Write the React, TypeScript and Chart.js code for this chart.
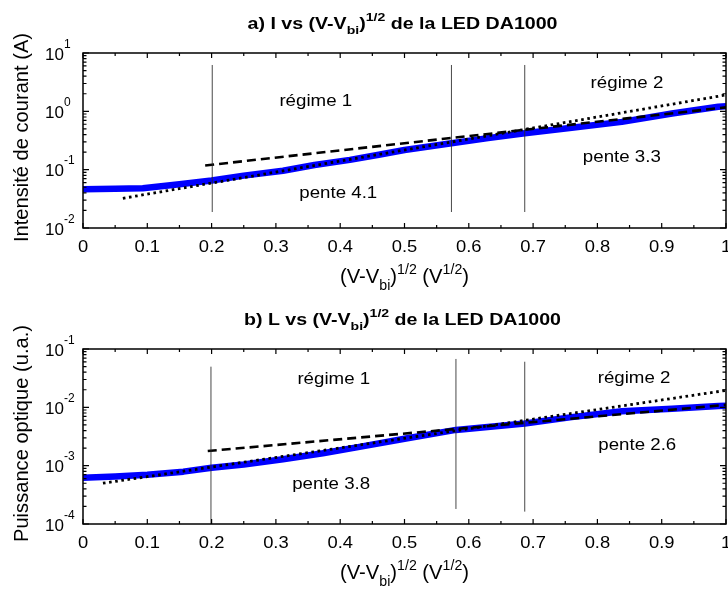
import React, { useEffect, useRef } from "react";
import { Chart, registerables } from "chart.js";

Chart.register(...registerables);

const FONT = '"Liberation Sans", Arial, Helvetica, sans-serif';

// ---------- shared axis data ----------
const xTickValues = [0, 0.1, 0.2, 0.3, 0.4, 0.5, 0.6, 0.7, 0.8, 0.9, 1];
const xTickLabels = ["0", "0.1", "0.2", "0.3", "0.4", "0.5", "0.6", "0.7", "0.8", "0.9", "1"];
const xMinorTicks = [0.05, 0.15, 0.25, 0.35, 0.45, 0.55, 0.65, 0.75, 0.85, 0.95];

// ---------- panel a) current ----------
const iDecades = [1, 0, -1, -2];
const iX = [0, 0.05, 0.093, 0.15, 0.2, 0.25, 0.311, 0.36, 0.415, 0.46, 0.5, 0.573, 0.63, 0.687, 0.76, 0.838, 0.916, 0.988, 1.0];
const iY = [0.046, 0.047, 0.048, 0.056, 0.065, 0.079, 0.096, 0.12, 0.147, 0.18, 0.217, 0.283, 0.347, 0.42, 0.525, 0.66, 0.92, 1.2, 1.22];
const iDashX = [0.19, 1.0];
const iDashY = [0.118, 1.17];
const iDotX = [0.062, 1.0];
const iDotY = [0.0323, 1.91];
const iVLineX = [0.201, 0.573, 0.687];
const iVLineLow = [0.0188, 0.0188, 0.0188];
const iVLineHigh = [6.23, 6.23, 6.23];
const iNoteText = ["régime 1", "régime 2", "pente 4.1", "pente 3.3"];
const iNoteX = [0.362, 0.846, 0.397, 0.838];
const iNoteY = [1.56, 3.18, 0.042, 0.171];

// ---------- panel b) optical power ----------
const lDecades = [-1, -2, -3, -4];
const lX = [0, 0.05, 0.1, 0.156, 0.2, 0.25, 0.311, 0.373, 0.43, 0.5, 0.58, 0.687, 0.76, 0.838, 0.916, 0.988, 1.0];
const lY = [0.00062, 0.00065, 0.0007, 0.00079, 0.00092, 0.00105, 0.00129, 0.00163, 0.0021, 0.0029, 0.0041, 0.0053, 0.0068, 0.0086, 0.0095, 0.0105, 0.0106];
const lDashX = [0.194, 1.0];
const lDashY = [0.00178, 0.011];
const lDotX = [0.031, 1.0];
const lDotY = [0.0005, 0.0195];
const lVLineX = [0.199, 0.58, 0.687];
const lVLineLow = [0.0001, 0.000181, 0.000163];
const lVLineHigh = [0.0498, 0.0675, 0.0605];
const lNoteText = ["régime 1", "régime 2", "pente 3.8", "pente 2.6"];
const lNoteX = [0.39, 0.857, 0.386, 0.862];
const lNoteY = [0.0318, 0.0331, 0.0005, 0.00235];

type Seg = { t: string; s: number; dy?: number };

function drawRich(
  ctx: CanvasRenderingContext2D,
  segs: Seg[],
  x: number,
  y: number,
  o: { bold?: boolean; align?: "left" | "center"; sx?: number; width?: number; rot?: number }
) {
  ctx.save();
  const fontOf = (s: number) => `${o.bold ? "bold " : ""}${s}px ${FONT}`;
  let w = 0;
  for (const sg of segs) {
    ctx.font = fontOf(sg.s);
    w += ctx.measureText(sg.t).width;
  }
  const k = o.width ? o.width / w : o.sx ?? 1;
  ctx.translate(x, y);
  if (o.rot) ctx.rotate(o.rot);
  ctx.scale(k, 1);
  let cx = o.align === "left" ? 0 : -w / 2;
  ctx.fillStyle = "#000";
  ctx.textBaseline = "alphabetic";
  ctx.textAlign = "left";
  for (const sg of segs) {
    ctx.font = fontOf(sg.s);
    ctx.fillText(sg.t, cx, sg.dy ?? 0);
    cx += ctx.measureText(sg.t).width;
  }
  ctx.restore();
}

type Panel = {
  title: Seg[];
  titleWidth: number;
  yLabel: string;
  yLabelLen: number;
  yMin: number;
  yMax: number;
  decades: number[];
  curveX: number[];
  curveY: number[];
  dashX: number[];
  dashY: number[];
  dotX: number[];
  dotY: number[];
  vX: number[];
  vLow: number[];
  vHigh: number[];
  noteText: string[];
  noteX: number[];
  noteY: number[];
  padTop: number;
  padBottom: number;
};

const xLabelSegs: Seg[] = [
  { t: "(V-V", s: 20 },
  { t: "bi", s: 14, dy: 7 },
  { t: ")", s: 20 },
  { t: "1/2", s: 14, dy: -9 },
  { t: " (V", s: 20 },
  { t: "1/2", s: 14, dy: -9 },
  { t: ")", s: 20 },
];

function makeTitle(prefix: string): Seg[] {
  return [
    { t: prefix + " vs (V-V", s: 16 },
    { t: "bi", s: 11.5, dy: 5 },
    { t: ")", s: 16 },
    { t: "1/2", s: 11.5, dy: -8 },
    { t: " de la LED DA1000", s: 16 },
  ];
}

const panelA: Panel = {
  title: makeTitle("a) I"),
  titleWidth: 310,
  yLabel: "Intensité de courant (A)",
  yLabelLen: 209,
  yMin: 0.01,
  yMax: 10,
  decades: iDecades,
  curveX: iX,
  curveY: iY,
  dashX: iDashX,
  dashY: iDashY,
  dotX: iDotX,
  dotY: iDotY,
  vX: iVLineX,
  vLow: iVLineLow,
  vHigh: iVLineHigh,
  noteText: iNoteText,
  noteX: iNoteX,
  noteY: iNoteY,
  padTop: 53,
  padBottom: 66,
};

const panelB: Panel = {
  title: makeTitle("b) L"),
  titleWidth: 317,
  yLabel: "Puissance optique (u.a.)",
  yLabelLen: 217,
  yMin: 0.0001,
  yMax: 0.1,
  decades: lDecades,
  curveX: lX,
  curveY: lY,
  dashX: lDashX,
  dashY: lDashY,
  dotX: lDotX,
  dotY: lDotY,
  vX: lVLineX,
  vLow: lVLineLow,
  vHigh: lVLineHigh,
  noteText: lNoteText,
  noteX: lNoteX,
  noteY: lNoteY,
  padTop: 55,
  padBottom: 65,
};

function pts(xs: number[], ys: number[]) {
  return xs.map((x, i) => ({ x, y: ys[i] }));
}

function makeDecorPlugin(p: Panel) {
  return {
    id: "decor",
    afterDraw(chart: any) {
      const ctx: CanvasRenderingContext2D = chart.ctx;
      const xs = chart.scales.x;
      const ys = chart.scales.y;
      const a = chart.chartArea;
      ctx.save();
      // frame
      ctx.strokeStyle = "#000";
      ctx.lineWidth = 1.5;
      ctx.strokeRect(a.left, a.top, a.right - a.left, a.bottom - a.top);
      // x ticks (inward, top and bottom)
      ctx.lineWidth = 1.2;
      const xt = (v: number, len: number) => {
        const px = xs.getPixelForValue(v);
        ctx.beginPath();
        ctx.moveTo(px, a.bottom);
        ctx.lineTo(px, a.bottom - len);
        ctx.moveTo(px, a.top);
        ctx.lineTo(px, a.top + len);
        ctx.stroke();
      };
      xTickValues.forEach((v) => xt(v, 5));
      xMinorTicks.forEach((v) => xt(v, 3));
      // y log ticks (inward, left and right)
      const yt = (v: number, len: number) => {
        const py = ys.getPixelForValue(v);
        ctx.beginPath();
        ctx.moveTo(a.left, py);
        ctx.lineTo(a.left + len, py);
        ctx.moveTo(a.right, py);
        ctx.lineTo(a.right - len, py);
        ctx.stroke();
      };
      const dmin = Math.min(...p.decades);
      const dmax = Math.max(...p.decades);
      for (let d = dmin; d <= dmax; d++) {
        yt(Math.pow(10, d), 6);
        if (d < dmax) for (let m = 2; m <= 9; m++) yt(m * Math.pow(10, d), 3.5);
      }
      ctx.restore();

      // x tick labels
      xTickValues.forEach((v, i) => {
        drawRich(ctx, [{ t: xTickLabels[i], s: 17 }], xs.getPixelForValue(v), a.bottom + 23.7, { sx: 1.08 });
      });
      // y tick labels
      p.decades.forEach((d) => {
        const py = ys.getPixelForValue(Math.pow(10, d));
        drawRich(
          ctx,
          [
            { t: "10", s: 17 },
            { t: String(d), s: 12, dy: -12 },
          ],
          45,
          py + 6.5,
          { align: "left" }
        );
      });
      const cx = (a.left + a.right) / 2;
      // title
      drawRich(ctx, p.title, cx - 2, a.top - 23.7, { bold: true, width: p.titleWidth });
      // x label
      drawRich(ctx, xLabelSegs, cx, a.bottom + 54.7, { width: 129 });
      // y label
      drawRich(ctx, [{ t: p.yLabel, s: 20 }], 28, (a.top + a.bottom) / 2 - 3, {
        rot: -Math.PI / 2,
        width: p.yLabelLen,
      });
      // annotations
      p.noteText.forEach((t, i) => {
        drawRich(ctx, [{ t, s: 17 }], xs.getPixelForValue(p.noteX[i]), ys.getPixelForValue(p.noteY[i]) + 6, {
          sx: 1.1,
        });
      });
    },
  };
}

function makeConfig(p: Panel): any {
  const vsets = p.vX.map((x, i) => ({
    data: pts([x, x], [p.vLow[i], p.vHigh[i]]),
    borderColor: "rgba(40,40,40,0.85)",
    borderWidth: 1,
    pointRadius: 0,
  }));
  return {
    type: "line",
    data: {
      datasets: [
        ...vsets,
        {
          data: pts(p.dashX, p.dashY),
          borderColor: "#000",
          borderWidth: 2.6,
          borderDash: [9, 5],
          pointRadius: 0,
        },
        {
          data: pts(p.dotX, p.dotY),
          borderColor: "#000",
          borderWidth: 2.8,
          borderDash: [2.6, 3.6],
          pointRadius: 0,
        },
        {
          data: pts(p.curveX, p.curveY),
          borderColor: "#0000ff",
          borderWidth: 6.5,
          pointRadius: 0,
          borderJoinStyle: "round",
        },
      ],
    },
    options: {
      responsive: false,
      animation: false,
      events: [],
      layout: { autoPadding: false, padding: { left: 83, right: 2, top: p.padTop, bottom: p.padBottom } },
      plugins: { legend: { display: false }, tooltip: { enabled: false }, title: { display: false } },
      scales: {
        x: { type: "linear", min: 0, max: 1, display: false },
        y: { type: "logarithmic", min: p.yMin, max: p.yMax, display: false },
      },
    },
    plugins: [makeDecorPlugin(p)],
  };
}

export default function App() {
  const topRef = useRef<HTMLCanvasElement>(null);
  const botRef = useRef<HTMLCanvasElement>(null);

  useEffect(() => {
    const c1 = new Chart(topRef.current as HTMLCanvasElement, makeConfig(panelA));
    const c2 = new Chart(botRef.current as HTMLCanvasElement, makeConfig(panelB));
    return () => {
      c1.destroy();
      c2.destroy();
    };
  }, []);

  return (
    <div style={{ position: "absolute", left: 0, top: 0, width: 728, height: 589, background: "#fff" }}>
      <canvas
        ref={topRef}
        width={728}
        height={294}
        style={{ position: "absolute", left: 0, top: 0, width: 728, height: 294 }}
      />
      <canvas
        ref={botRef}
        width={728}
        height={295}
        style={{ position: "absolute", left: 0, top: 294, width: 728, height: 295 }}
      />
    </div>
  );
}
